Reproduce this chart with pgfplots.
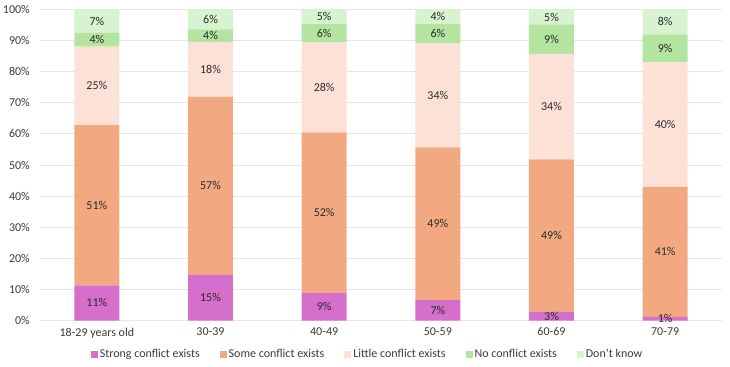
\documentclass[border=0pt]{standalone}
\usepackage{fontspec}
\setmainfont{Carlito}
\usepackage{pgfplots}
\usepackage{pgfplotstable}
\pgfplotsset{compat=1.18}
\definecolor{cStrong}{HTML}{D66FCC}
\definecolor{cSome}{HTML}{F2A982}
\definecolor{cLittle}{HTML}{FCE2D6}
\definecolor{cNo}{HTML}{B3E4A0}
\definecolor{cDK}{HTML}{D8F3D0}
\definecolor{txt}{HTML}{2A2A2A}
\definecolor{tickc}{HTML}{3A3A3A}
\definecolor{gridc}{HTML}{E6E6E6}

\pgfplotstableread{
x strong some little no dk
0 11.3 51.5 25.3 4.5 7.4
1 14.7 57.3 17.6 4.0 6.4
2 8.8 51.7 29.0 5.8 4.7
3 6.6 49.1 33.5 6.1 4.7
4 2.8 49.0 33.9 9.5 4.8
5 1.2 41.8 40.0 9.0 8.0
}\datatable

\pgfplotstableread{
x y label
0 5.65 11
0 37.05 51
0 75.45 25
0 90.35 4
0 96.3 7
1 7.35 15
1 43.35 57
1 80.8 18
1 91.6 4
1 96.8 6
2 4.4 9
2 34.65 52
2 75.0 28
2 92.4 6
2 97.65 5
3 3.3 7
3 31.15 49
3 72.45 34
3 92.25 6
3 97.65 4
4 1.4 3
4 27.3 49
4 68.75 34
4 90.45 9
4 97.6 5
5 0.6 1
5 22.1 41
5 63.0 40
5 87.5 9
5 96.0 8
}\labeltable

\pgfplotsset{
  basestyle/.style={scale only axis, width=682bp, height=311bp,
    xmin=-0.5, xmax=5.5, ymin=0, ymax=100, at={(0,0)}, anchor=south west},
  sqlegend/.style={legend image code/.code={\fill[##1] (0bp,-3.5bp) rectangle (7bp,3.5bp);}}
}

\begin{document}
\begin{tikzpicture}
\path[use as bounding box] (-40bp,-46.5bp) rectangle (690bp,320.5bp);
\begin{axis}[basestyle,
  ybar stacked, bar width=45bp,
  ytick={0,10,...,100},
  yticklabel={\pgfmathprintnumber{\tick}\%},
  xtick={0,...,5},
  xticklabels={18-29 years old,30-39,40-49,50-59,60-69,70-79},
  ymajorgrids, grid style={gridc, line width=0.8bp},
  axis lines*=left,
  y axis line style={draw=none},
  x axis line style={draw=gridc, line width=1.2bp},
  major tick length=0pt,
  tick label style={font=\fontsize{12bp}{14bp}\selectfont, text=tickc},
  yticklabel style={inner sep=0pt, xshift=-10bp},
  xticklabel style={inner sep=0pt, yshift=-7bp},
  /pgf/number format/assume math mode=true,
  legend columns=5,
  legend style={at={(0.5,0)}, anchor=center, yshift=-34bp, xshift=-13.5bp,
    draw=none, fill=none, font=\fontsize{12bp}{14bp}\selectfont, text=tickc,
    /tikz/every even column/.append style={column sep=18bp},
    nodes={inner sep=2bp}},
]
\addplot[fill=cStrong, draw=none, sqlegend] table[x=x, y=strong]{\datatable};
\addplot[fill=cSome, draw=none, sqlegend] table[x=x, y=some]{\datatable};
\addplot[fill=cLittle, draw=none, sqlegend] table[x=x, y=little]{\datatable};
\addplot[fill=cNo, draw=none, sqlegend] table[x=x, y=no]{\datatable};
\addplot[fill=cDK, draw=none, sqlegend] table[x=x, y=dk]{\datatable};
\legend{Strong conflict exists, Some conflict exists, Little conflict exists, No conflict exists, Don't know}
\end{axis}
\begin{axis}[basestyle, hide axis]
\addplot[only marks, mark=none, point meta=explicit symbolic,
  nodes near coords={\pgfplotspointmeta\%},
  every node near coord/.style={anchor=center, inner sep=0pt, text=txt,
    font=\fontsize{12bp}{14bp}\selectfont}]
  table[x=x, y=y, meta=label]{\labeltable};
\end{axis}
\end{tikzpicture}
\end{document}
